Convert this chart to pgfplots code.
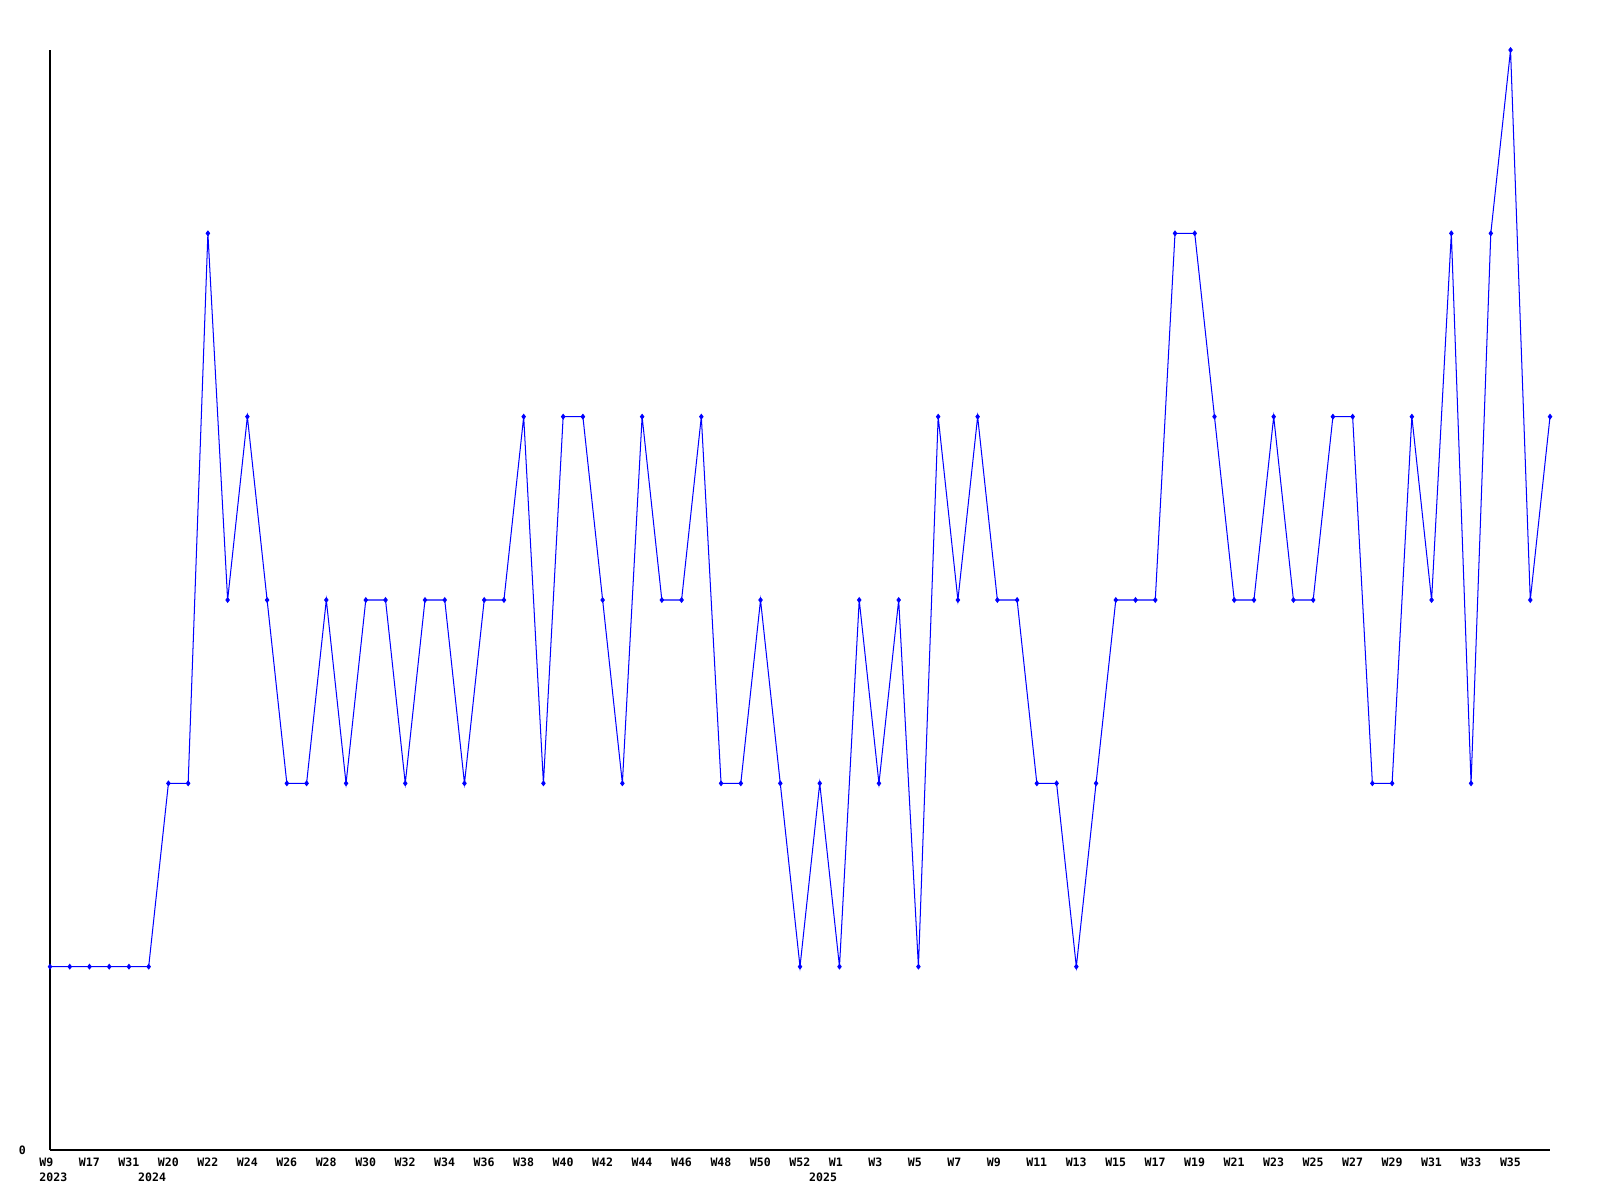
\documentclass[border=0pt]{standalone}
\usepackage{fontspec}
\usepackage{pgfplots}
\pgfplotsset{compat=1.18}
\newfontfamily\lab{DejaVu Sans Mono}
\definecolor{lineblue}{RGB}{0,0,255}
\begin{document}
\begin{tikzpicture}[x=1pt,y=1pt]
\path[use as bounding box] (-14.7pt,-14.7pt) rectangle (455.7pt,338.1pt);
\begin{axis}[
  at={(0,0)}, anchor=south west,
  scale only axis, width=441pt, height=323.4pt,
  xmin=0, xmax=76, ymin=0, ymax=6,
  axis x line=bottom, axis y line=left,
  axis line style={-, black, line width=0.3pt},
  major tick length=0pt,
  clip=false,
  xtick={0,2,...,74},
  xticklabels={W9,W17,W31,W20,W22,W24,W26,W28,W30,W32,W34,W36,W38,W40,W42,W44,W46,W48,W50,W52,W1,W3,W5,W7,W9,W11,W13,W15,W17,W19,W21,W23,W25,W27,W29,W31,W33,W35},
  ytick={0}, yticklabels={0},
  xticklabel style={font=\lab\bfseries\fontsize{3.4}{3.6}\selectfont, anchor=north west, inner sep=0pt, xshift=-3.3pt, yshift=-2.1pt},
  yticklabel style={font=\lab\bfseries\fontsize{3.4}{3.6}\selectfont, anchor=east, inner sep=0pt, xshift=-6.9pt},
]
\addplot[color=lineblue, line width=0.3pt, mark=diamond*, mark size=0.65pt, mark options={fill=lineblue, draw=lineblue}] coordinates {
(0,1)(1,1)(2,1)(3,1)(4,1)(5,1)(6,2)(7,2)(8,5)(9,3)
(10,4)(11,3)(12,2)(13,2)(14,3)(15,2)(16,3)(17,3)(18,2)(19,3)
(20,3)(21,2)(22,3)(23,3)(24,4)(25,2)(26,4)(27,4)(28,3)(29,2)
(30,4)(31,3)(32,3)(33,4)(34,2)(35,2)(36,3)(37,2)(38,1)(39,2)
(40,1)(41,3)(42,2)(43,3)(44,1)(45,4)(46,3)(47,4)(48,3)(49,3)
(50,2)(51,2)(52,1)(53,2)(54,3)(55,3)(56,3)(57,5)(58,5)(59,4)
(60,3)(61,3)(62,4)(63,3)(64,3)(65,4)(66,4)(67,2)(68,2)(69,4)
(70,3)(71,5)(72,2)(73,5)(74,6)(75,3)(76,4)
};
\node[font=\lab\bfseries\fontsize{3.4}{3.6}\selectfont, anchor=north west, inner sep=0pt, xshift=-3.3pt, yshift=-6.6pt] at (axis cs:0,0) {2023};
\node[font=\lab\bfseries\fontsize{3.4}{3.6}\selectfont, anchor=north west, inner sep=0pt, xshift=-3.3pt, yshift=-6.6pt] at (axis cs:5,0) {2024};
\node[font=\lab\bfseries\fontsize{3.4}{3.6}\selectfont, anchor=north west, inner sep=0pt, xshift=-3.3pt, yshift=-6.6pt] at (axis cs:39,0) {2025};
\end{axis}
\end{tikzpicture}
\end{document}
